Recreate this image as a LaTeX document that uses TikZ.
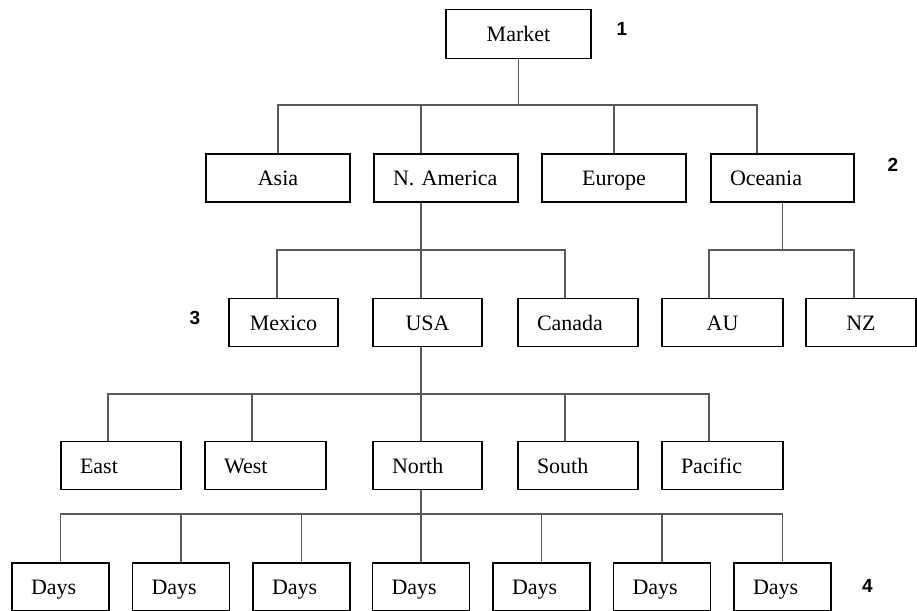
\documentclass[tikz,border=0pt]{standalone}
\usepackage{fontspec}
\setmainfont{Liberation Serif}
\newfontfamily\digitfont{Liberation Sans}
\usepackage{tikz}

\begin{document}
\begin{tikzpicture}[x=1pt, y=-1pt,
  box/.style={draw, line width=1.5pt, minimum height=48pt, inner sep=0pt,
    text height=15pt, text depth=0pt, font=\fontsize{22}{24}\selectfont},
  cbox/.style={box, minimum width=#1},
  lbox/.style={box, text width=#1, align=left, inner xsep=19pt},
  link/.style={line width=1.6pt, black!65},
  lvl/.style={font=\digitfont\bfseries\fontsize{19}{20}\selectfont}]
\useasboundingbox (0,0) rectangle (917,610);
\clip (0,0) rectangle (917,610);
%
\node[cbox=145pt, minimum height=49pt] (market) at (518.5,34) {Market};
%
\node[cbox=144pt] (asia) at (278,178) {Asia};
\node[lbox=106pt] (namerica) at (446,178) {N. America};
\node[cbox=144pt] (europe) at (614,178) {Europe};
\node[lbox=105pt] (oceania) at (782.5,178) {Oceania};
%
\node[cbox=109pt] (mexico) at (283.5,322.5) {Mexico};
\node[cbox=109pt] (usa) at (427.5,322.5) {USA};
\node[lbox=82pt] (canada) at (578,322.5) {Canada};
\node[cbox=121pt] (au) at (722.5,322.5) {AU};
\node[cbox=110pt] (nz) at (861,322.5) {NZ};
%
\node[lbox=82pt] (east) at (121,465.5) {East};
\node[lbox=83pt] (west) at (265.5,465.5) {West};
\node[lbox=71pt] (north) at (427.5,465.5) {North};
\node[lbox=82pt] (south) at (578,465.5) {South};
\node[lbox=83pt] (pacific) at (722.5,465.5) {Pacific};
%
\foreach \i/\x in {1/60.5,2/181,3/301.5,4/421,5/541.5,6/662,7/782.5}
  \node[lbox=59pt] (days\i) at (\x,587) {Days};
%
\node[lvl] (lvlone) at (622,29) {1};
\node[lvl] (lvltwo) at (893,165) {2};
\node[lvl] (lvlthree) at (195,317.5) {3};
\node[lvl] (lvlfour) at (867.5,586) {4};
%
\coordinate (mkt-j) at (518.5,105);
\draw[link] (market) -- (mkt-j);
\draw[link] (mkt-j) -| (asia.north);
\draw[link] (mkt-j) -| ([xshift=-25pt]namerica.north);
\draw[link] (mkt-j) -| (europe.north);
\draw[link] (mkt-j) -| ([xshift=-25.5pt]oceania.north);
%
\coordinate (nam-j) at (421,250);
\draw[link] ([xshift=-25pt]namerica.south) -- (nam-j);
\draw[link] (nam-j) -| ([xshift=-6.5pt]mexico.north);
\draw[link] (nam-j) -| ([xshift=-6.5pt]usa.north);
\draw[link] (nam-j) -| ([xshift=-13pt]canada.north);
%
\coordinate (oce-j) at (782.5,250);
\draw[link] (oceania) -- (oce-j);
\draw[link] (oce-j) -| ([xshift=-13.5pt]au.north);
\draw[link] (oce-j) -| ([xshift=-7pt]nz.north);
%
\coordinate (usa-j) at (421,394);
\draw[link] ([xshift=-6.5pt]usa.south) -- (usa-j);
\draw[link] (usa-j) -| ([xshift=-13pt]east.north);
\draw[link] (usa-j) -| ([xshift=-13.5pt]west.north);
\draw[link] (usa-j) -| ([xshift=-6.5pt]north.north);
\draw[link] (usa-j) -| ([xshift=-13pt]south.north);
\draw[link] (usa-j) -| ([xshift=-13.5pt]pacific.north);
%
\coordinate (nor-j) at (421,514);
\draw[link] ([xshift=-6.5pt]north.south) -- (nor-j);
\foreach \i in {1,...,7}
  \draw[link] (nor-j) -| (days\i.north);
\end{tikzpicture}
\end{document}
